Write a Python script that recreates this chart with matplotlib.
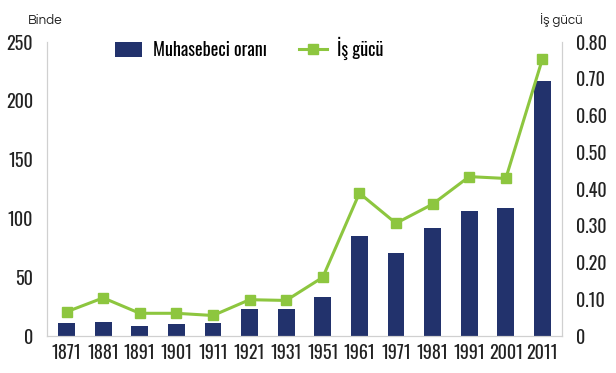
import numpy as np
import matplotlib.pyplot as plt
from matplotlib import font_manager

years = ["1871", "1881", "1891", "1901", "1911", "1921", "1931",
         "1951", "1961", "1971", "1981", "1991", "2001", "2011"]
muhasebeci = [11, 12, 8.5, 10, 11, 23, 23, 33, 85, 70.5, 92, 106.5, 109, 217]
is_gucu = [0.066, 0.104, 0.062, 0.062, 0.056, 0.099, 0.097,
           0.16, 0.389, 0.307, 0.359, 0.434, 0.429, 0.754]

left_ticks = [0, 50, 100, 150, 200, 250]
right_ticks = [0, 0.1, 0.2, 0.3, 0.4, 0.5, 0.6, 0.7, 0.8]
right_labels = ["0", "0.10", "0.20", "0.30", "0.40", "0.50", "0.60", "0.70", "0.80"]

names = {f.name for f in font_manager.fontManager.ttflist}


def pick(cands):
    for c in cands:
        if c in names:
            return c
    return "DejaVu Sans"


narrow = pick(["Oswald", "Roboto Condensed", "Barlow Condensed", "PT Sans Narrow",
               "Archivo Narrow", "Liberation Sans Narrow"])
round_font = pick(["Questrial", "Didact Gothic", "Montserrat", "Poppins", "DejaVu Sans"])
nweight = "light" if narrow == "Oswald" else "normal"

navy = "#22326c"
green = "#8dc63f"
grey = "#d0d0d0"

fig = plt.figure(figsize=(6.16, 3.73), dpi=100)
ax = fig.add_axes([0.076, 0.099, 0.836, 0.788])
ax2 = ax.twinx()

x = np.arange(len(years))
ax.bar(x, muhasebeci, width=0.46, color=navy, label="Muhasebeci oranı", zorder=2)
ax2.plot(x, is_gucu, color=green, lw=2.2, marker="s", markersize=7.5,
         label="İş gücü", zorder=3)

ax.set_xlim(-0.54, 13.53)
ax.set_ylim(0, 250)
ax2.set_ylim(0, 0.8)
ax.set_xticks(x)
ax.set_xticklabels(years)
ax.set_yticks(left_ticks)
ax2.set_yticks(right_ticks)
ax2.set_yticklabels(right_labels)

for a in (ax, ax2):
    a.tick_params(length=0, labelsize=13, colors="#222222")
    for lab in a.get_xticklabels() + a.get_yticklabels():
        lab.set_fontfamily(narrow)
        lab.set_fontweight(nweight)
    for s in a.spines.values():
        s.set_color(grey)
    a.spines["top"].set_visible(False)
ax.tick_params(axis="x", pad=6)
ax.tick_params(axis="y", pad=10)
ax2.tick_params(axis="y", pad=10)

fig.text(0.046, 0.935, "Binde", fontsize=9.5, color="#222222", family=round_font)
fig.text(0.876, 0.935, "İş gücü", fontsize=9.5, color="#222222", family=round_font)

h1, l1 = ax.get_legend_handles_labels()
h2, l2 = ax2.get_legend_handles_labels()
fig.legend(h1 + h2, l1 + l2, loc="center", bbox_to_anchor=(0.405, 0.87), ncol=2,
           frameon=False, prop={"family": narrow, "size": 13, "weight": nweight},
           handlelength=1.5, handleheight=0.9, columnspacing=1.8, handletextpad=0.6)

fig.savefig("out.png", dpi=100)
